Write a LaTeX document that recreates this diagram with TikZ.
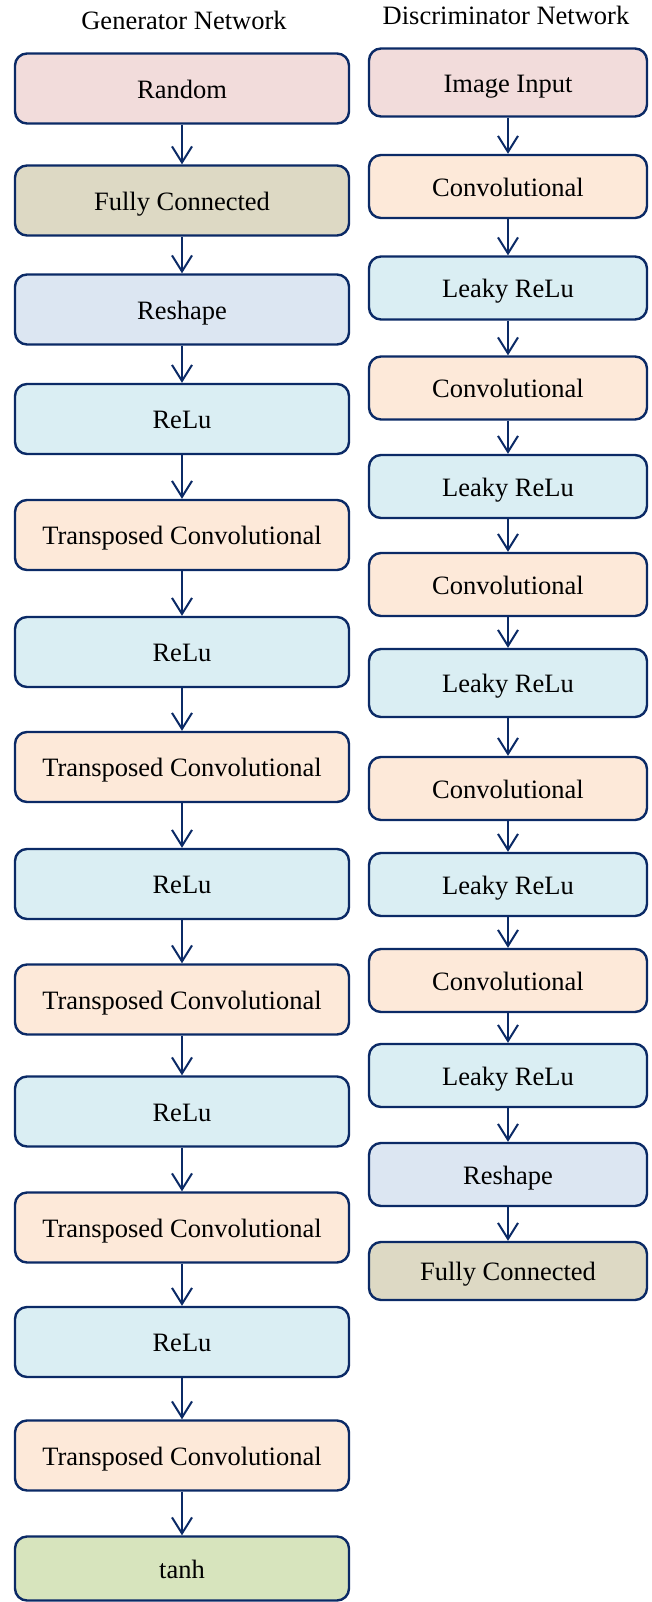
\documentclass[tikz,border=0pt]{standalone}
\usepackage{fontspec}
\setmainfont{Liberation Serif}
\usepackage{tikz}
\usetikzlibrary{arrows.meta}
\definecolor{edgeblue}{HTML}{0B2A66}
\definecolor{inputfill}{HTML}{F2DCDB}
\definecolor{fcfill}{HTML}{DDD9C4}
\definecolor{shapefill}{HTML}{DCE6F2}
\definecolor{actfill}{HTML}{DAEEF3}
\definecolor{convfill}{HTML}{FDE9D9}
\definecolor{tanhfill}{HTML}{D7E4BD}
\tikzset{
  layer/.style={draw=edgeblue, line width=1.2pt, rounded corners=6pt,
                text height=0.98em, text depth=0em, inner sep=0pt},
  genbox/.style={layer, minimum width=167pt, minimum height=35pt},
  disbox/.style={layer, minimum width=139pt, minimum height=31.5pt},
  flow/.style={draw=edgeblue, line width=1pt,
               -{Straight Barb[length=8pt,width=10pt]}},
}

\begin{document}
\begin{tikzpicture}[x=0.5pt, y=-0.5pt, font=\fontsize{13.25}{16}\selectfont]
\useasboundingbox (0,0) rectangle (652,1602);

\node (gtitle) at (184,20) {Generator Network};
\node (dtitle) at (506,15) {Discriminator Network};

% generator column
\node[genbox, fill=inputfill] (g1)  at (182,88.5)   {Random};
\node[genbox, fill=fcfill]    (g2)  at (182,200.5)  {Fully Connected};
\node[genbox, fill=shapefill] (g3)  at (182,309.5)  {Reshape};
\node[genbox, fill=actfill]   (g4)  at (182,419)    {ReLu};
\node[genbox, fill=convfill]  (g5)  at (182,535)    {Transposed Convolutional};
\node[genbox, fill=actfill]   (g6)  at (182,652)    {ReLu};
\node[genbox, fill=convfill]  (g7)  at (182,767)    {Transposed Convolutional};
\node[genbox, fill=actfill]   (g8)  at (182,884)    {ReLu};
\node[genbox, fill=convfill]  (g9)  at (182,999.5)  {Transposed Convolutional};
\node[genbox, fill=actfill]   (g10) at (182,1111.5) {ReLu};
\node[genbox, fill=convfill]  (g11) at (182,1227.5) {Transposed Convolutional};
\node[genbox, fill=actfill]   (g12) at (182,1342)   {ReLu};
\node[genbox, fill=convfill]  (g13) at (182,1455.5) {Transposed Convolutional};
\node[genbox, fill=tanhfill, minimum height=32pt] (g14) at (182,1568.5) {tanh};

% discriminator column
\node[disbox, fill=inputfill, minimum height=34pt] (d1) at (508,82.5) {Image Input};
\node[disbox, fill=convfill]  (d2)  at (508,186.5)  {Convolutional};
\node[disbox, fill=actfill]   (d3)  at (508,288)    {Leaky ReLu};
\node[disbox, fill=convfill]  (d4)  at (508,388)    {Convolutional};
\node[disbox, fill=actfill]   (d5)  at (508,486.5)  {Leaky ReLu};
\node[disbox, fill=convfill]  (d6)  at (508,584.5)  {Convolutional};
\node[disbox, fill=actfill, minimum height=34pt] (d7) at (508,683) {Leaky ReLu};
\node[disbox, fill=convfill]  (d8)  at (508,788.5)  {Convolutional};
\node[disbox, fill=actfill]   (d9)  at (508,884.5)  {Leaky ReLu};
\node[disbox, fill=convfill]  (d10) at (508,980.5)  {Convolutional};
\node[disbox, fill=actfill]   (d11) at (508,1075.5) {Leaky ReLu};
\node[disbox, fill=shapefill] (d12) at (508,1174.5) {Reshape};
\node[disbox, fill=fcfill, minimum height=29pt] (d13) at (508,1271) {Fully Connected};

\foreach \a [evaluate=\a as \b using int(\a+1)] in {1,...,13}
  \draw[flow] (g\a) -- (g\b);
\foreach \a [evaluate=\a as \b using int(\a+1)] in {1,...,12}
  \draw[flow] (d\a) -- (d\b);
\end{tikzpicture}
\end{document}
